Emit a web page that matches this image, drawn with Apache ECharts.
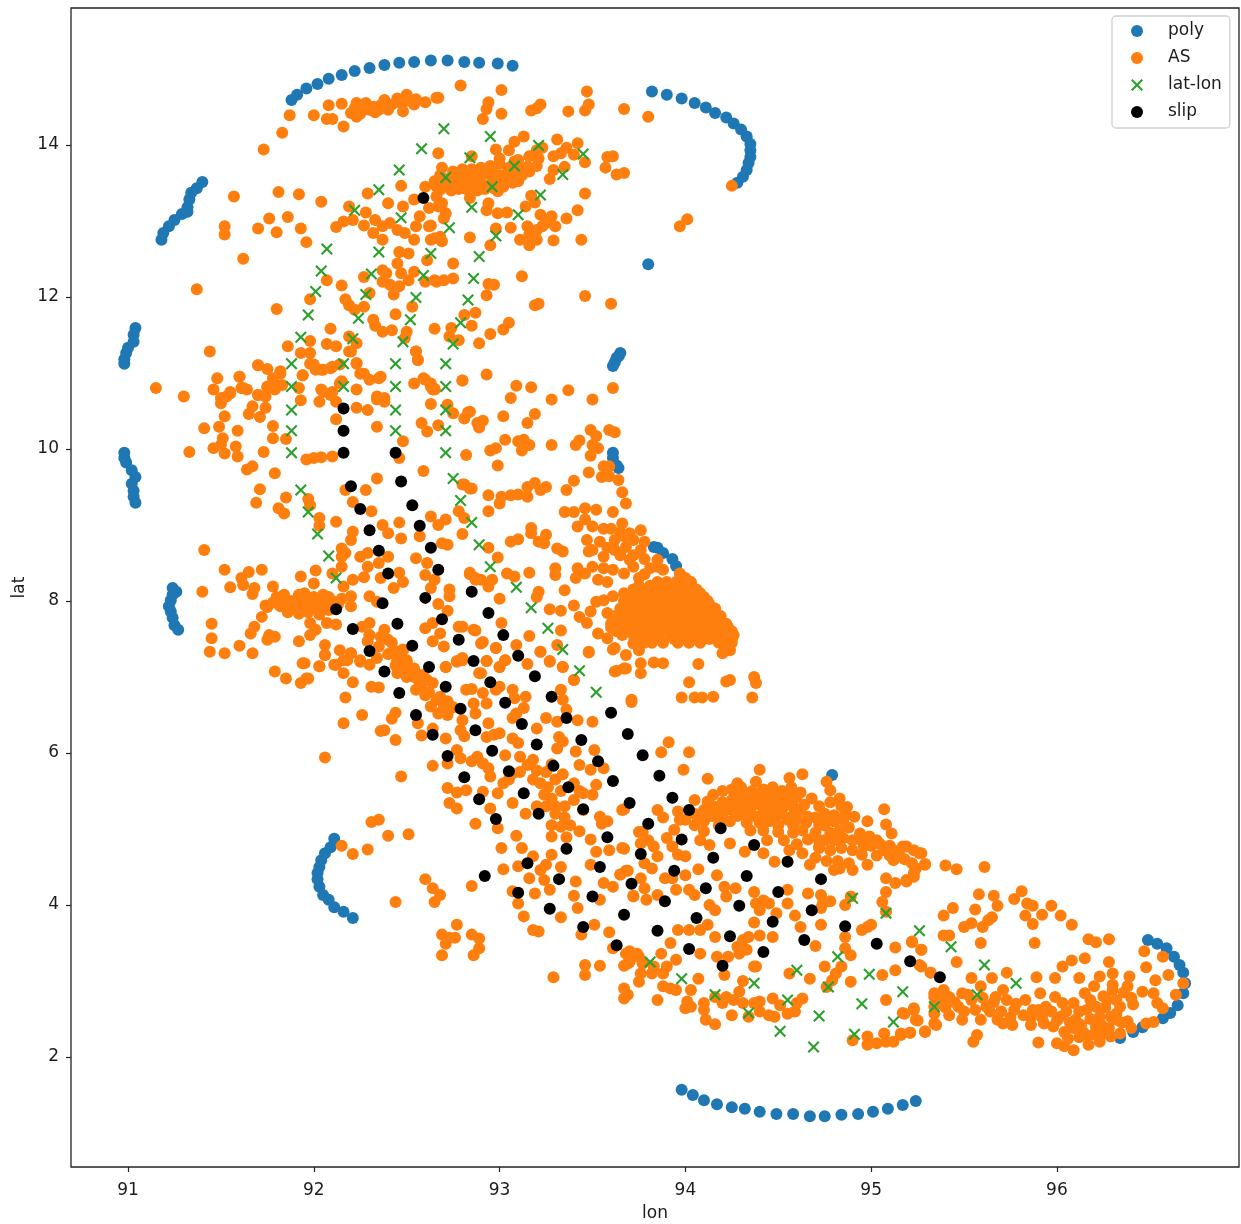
<!DOCTYPE html>
<html><head><meta charset="utf-8">
<style>html,body{margin:0;padding:0;background:#fff}#c{width:1241px;height:1224px}</style>
<script src="https://cdn.jsdelivr.net/npm/echarts@6/dist/echarts.min.js"></script>
</head><body><div id="c"></div>
<script>
const xTicks=[91,92,93,94,95,96];
const yTicks=[2,4,6,8,10,12,14];
const polyPoints=[[91.88,14.59],[91.91,14.66],[91.96,14.74],[92.02,14.80],[92.08,14.87],[92.15,14.92],[92.22,14.97],[92.30,15.01],[92.38,15.05],[92.46,15.08],[92.54,15.09],[92.63,15.11],[92.72,15.11],[92.81,15.09],[92.89,15.08],[92.99,15.07],[93.07,15.04],
[93.82,14.70],[93.90,14.66],[93.98,14.61],[94.05,14.55],[94.11,14.49],[94.16,14.42],[94.22,14.36],[94.26,14.28],[94.30,14.20],[94.33,14.11],[94.35,14.01],[94.35,13.93],[94.35,13.84],[94.34,13.76],[94.33,13.67],[94.31,13.58],[94.28,13.50],
[91.40,13.51],[91.37,13.43],[91.34,13.37],[91.33,13.28],[91.32,13.18],[91.32,13.12],[91.29,13.09],[91.25,13.01],[91.22,12.93],[91.19,12.84],[91.18,12.75],
[91.04,11.59],[91.03,11.50],[91.03,11.41],[91.00,11.33],[90.99,11.26],[90.98,11.18],[90.98,11.12],
[90.98,9.95],[90.98,9.88],[90.99,9.82],[91.02,9.72],[91.04,9.63],[91.02,9.54],[91.03,9.45],[91.03,9.37],[91.04,9.29],
[91.24,8.17],[91.26,8.12],[91.24,8.08],[91.23,8.01],[91.22,7.93],[91.23,7.86],[91.24,7.78],[91.25,7.68],[91.27,7.62],
[93.80,12.43],[93.65,11.26],[93.64,11.22],[93.63,11.20],[93.62,11.14],[93.61,11.09],[93.61,9.95],[93.61,9.88],[93.63,9.78],[93.64,9.75],
[93.83,8.71],[93.85,8.70],[93.88,8.63],[93.93,8.55],[93.95,8.46],[94.79,5.71],
[92.11,4.87],[92.09,4.76],[92.06,4.68],[92.04,4.59],[92.03,4.50],[92.02,4.42],[92.02,4.34],[92.03,4.24],[92.05,4.13],[92.08,4.07],[92.11,3.97],[92.16,3.91],[92.21,3.83],
[93.98,1.57],[94.04,1.50],[94.10,1.43],[94.17,1.38],[94.25,1.34],[94.32,1.32],[94.40,1.28],[94.49,1.25],[94.58,1.25],[94.67,1.22],[94.75,1.22],[94.84,1.24],[94.93,1.25],[95.01,1.28],[95.09,1.32],[95.17,1.37],[95.24,1.42],
[96.49,3.54],[96.54,3.49],[96.59,3.43],[96.63,3.32],[96.66,3.21],[96.68,3.11],[96.69,2.97],[96.68,2.84],[96.65,2.68],[96.61,2.58],[96.57,2.51],[96.46,2.39],[96.41,2.33],[96.34,2.25]];
const asPoints=[[91.87,14.39],[91.83,14.16],[91.73,13.94],[92.00,14.39],[92.08,14.52],[92.15,14.54],[92.07,14.34],[92.10,14.34],[92.16,14.24],[92.20,14.42],[92.23,14.55],[92.27,14.46],[92.30,14.46],[92.35,14.46],[92.38,14.59],[92.40,14.46],[92.45,14.61],[92.48,14.44],[92.50,14.66],[92.54,14.53],[92.60,14.56],[92.66,14.62],[92.23,14.37],[92.28,14.55],
[91.57,13.32],[91.81,13.38],[91.92,13.35],[92.04,13.25],[92.19,13.19],[92.29,13.36],[92.40,13.23],[92.47,13.46],[92.60,13.45],[91.52,12.93],[91.52,12.82],[91.76,13.03],[91.86,13.05],[91.70,12.90],[91.80,12.85],[91.93,12.90],[91.96,12.72],[91.62,12.50],[91.37,12.10],[91.80,11.84],[91.44,11.28],[91.15,10.80],[91.30,10.69],
[92.12,12.92],[92.16,12.99],[92.21,13.01],[92.27,12.94],[92.28,13.11],[92.33,13.01],[92.32,12.84],[92.37,12.93],[92.37,12.75],[92.41,12.97],[92.45,12.88],[92.49,12.84],[92.48,13.19],[92.54,12.75],[92.54,13.28],[92.57,13.06],[92.55,12.93],[92.62,12.93],[92.62,13.17],[92.65,12.77],[92.66,13.45],[92.67,13.19],[92.46,12.59],[92.51,12.57],[92.61,12.48],
[92.27,12.26],[92.37,12.35],[92.39,12.31],[92.45,12.44],[92.47,12.31],[92.54,12.33],[92.37,12.20],[92.41,12.16],[92.46,12.14],[92.43,12.03],[92.51,12.22],[92.60,12.20],[92.66,12.20],[92.07,12.22],[92.15,12.15],[91.98,11.97],[92.17,11.97],[92.19,11.89],[92.22,11.83],[92.27,11.87],[92.30,12.05],[92.53,11.87],[92.44,11.77],[92.32,11.70],[92.33,11.62],[92.09,11.58],[92.37,11.54],[92.42,11.56],[92.50,11.54],[92.49,11.46],[92.65,11.58],
[91.98,11.42],[91.86,11.35],[92.07,11.38],[92.12,11.35],[92.19,11.48],[92.23,11.39],[92.19,11.28],[91.93,11.26],[91.98,11.26],[91.98,11.12],[92.01,11.04],[92.05,11.04],[92.10,11.08],[92.55,11.28],[92.56,11.17],[91.70,11.10],[91.82,10.99],[91.94,10.97],[91.48,10.93],[91.60,10.95],[91.62,10.80],[91.75,10.80],[91.80,10.84],[91.46,10.78],[91.55,10.73],[91.70,10.71],[92.23,11.12],[92.27,10.99],[92.30,10.91],[92.36,10.95],[92.23,10.78],[92.14,10.86],[92.04,10.78],[92.09,10.71],[92.54,10.86],[92.60,10.91],[92.64,10.78],[92.34,10.69],[92.38,10.67],
[92.79,14.78],[93.01,14.72],[93.47,14.70],[92.67,14.62],[92.94,14.56],[92.93,14.47],[92.91,14.34],[93.01,14.41],[93.17,14.45],[93.20,14.48],[93.22,14.53],[93.37,14.44],[93.46,14.45],[93.48,14.53],[93.67,14.47],[93.80,14.37],[92.67,13.89],[92.85,13.85],[92.69,13.70],[92.65,13.52],
[92.68,13.60],[92.72,13.55],[92.76,13.62],[92.80,13.58],[92.84,13.60],[92.88,13.57],[92.92,13.62],[92.96,13.58],[93.00,13.60],[93.04,13.55],[93.08,13.58],[92.70,13.45],[92.74,13.48],[92.78,13.42],[92.82,13.50],[92.86,13.45],[92.90,13.50],[92.94,13.46],[92.98,13.50],[93.02,13.45],[92.75,13.65],[92.85,13.68],[92.95,13.72],[92.90,13.70],[93.00,13.75],[93.05,13.70],[92.84,13.30],[92.68,13.41],[92.66,13.32],[92.69,13.23],[92.71,13.10],[92.70,13.03],
[92.98,13.94],[93.05,13.93],[93.08,14.04],[93.13,14.11],[93.10,13.80],[93.15,13.71],[93.16,13.85],[93.20,13.93],[93.23,13.96],[93.21,13.82],[93.31,14.07],[93.29,13.85],[93.29,13.67],[93.33,13.89],[93.36,13.96],[93.42,14.02],[93.40,13.87],[93.35,13.71],[93.27,13.55],[93.46,13.77],[93.58,13.84],[93.61,13.85],[93.57,13.70],[93.63,13.61],[93.67,13.63],[93.46,13.36],[94.25,13.46],[94.01,13.02],[93.97,12.93],
[92.94,13.23],[92.93,13.14],[92.99,13.10],[93.04,13.11],[92.99,13.39],[93.17,13.33],[93.14,13.19],[93.19,13.24],[93.42,13.14],[93.36,13.03],[93.22,13.08],[93.28,13.06],[93.30,12.93],[93.25,12.97],[93.06,12.91],[92.98,12.90],[93.15,12.93],[93.20,12.88],[93.11,12.75],[93.16,12.68],[93.20,12.75],[93.16,12.82],[93.23,12.93],[93.29,12.74],[93.44,12.75],[92.84,12.78],[92.95,12.68],[92.63,12.75],[92.68,12.79],[92.69,12.73],[92.63,12.94],[92.75,12.44],[93.12,12.27],[92.94,12.17],[92.97,12.16],[92.93,12.02],[92.65,12.22],[92.70,12.22],[92.75,12.24],[93.46,12.01],[93.60,11.91],[93.19,11.89],[93.21,11.91],[92.87,11.79],[92.81,11.76],[92.85,11.62],[92.74,11.59],[92.73,11.48],[92.78,11.43],[92.95,11.51],[92.89,11.39],[93.02,11.57],[93.05,11.66],[92.93,10.98],[92.80,10.90],[93.09,10.83],[93.17,10.81],[93.37,10.77],[93.61,10.80],[93.06,10.67],[93.28,10.65],[93.50,10.65],[92.63,10.82],[92.65,10.78],
[91.60,10.95],[91.61,10.80],[91.64,10.78],[91.50,10.67],[91.53,10.69],[91.55,10.75],[91.50,10.60],[91.70,11.10],[91.75,11.05],[91.82,11.02],[91.78,10.93],[91.75,10.82],[91.79,10.78],[91.83,10.84],[91.70,10.71],[91.74,10.69],[91.74,10.54],[91.67,10.56],[91.65,10.46],[91.71,10.42],[91.52,10.43],[91.94,10.97],[91.92,10.80],[91.93,10.64],[91.78,10.30],[91.59,10.24],[91.49,10.29],[91.41,10.27],[91.51,10.14],[91.50,10.05],[91.46,10.01],[91.52,9.94],[91.58,10.03],[91.59,9.90],[91.33,9.96],[91.73,9.96],[91.78,10.14],[91.85,10.13],[91.64,9.73],[91.67,9.77],[91.79,9.68],[91.71,9.47],[91.69,9.29],[91.85,9.36],[91.81,9.22],[91.84,9.15],[91.97,9.34],[91.98,9.26],[92.03,9.09],[92.03,8.99],[92.12,9.04],
[92.00,11.11],[92.04,11.04],[92.09,11.06],[92.14,11.11],[92.20,11.28],[92.23,11.13],[92.25,10.99],[92.35,10.93],[92.15,10.89],[92.05,10.75],[92.03,10.62],[92.10,10.75],[92.12,10.62],[92.23,10.54],[92.29,10.51],[92.34,10.65],[92.38,10.62],[92.12,10.39],[92.34,10.29],[92.48,10.10],[92.46,9.88],[91.96,9.86],[92.00,9.88],[92.04,9.89],[92.10,9.90],[92.59,10.93],[92.63,10.86],[92.65,10.79],[92.80,10.90],[92.55,11.28],[92.56,11.17],[92.63,10.59],[92.72,10.58],[92.75,10.47],[92.81,10.40],[92.84,10.49],[92.88,10.34],[92.58,10.34],[92.61,10.23],[92.67,10.31],[92.82,9.92],[92.59,9.71],[92.34,9.61],[92.28,9.46],[92.17,9.46],[92.21,9.30],[92.31,9.18],[92.80,9.53],[92.85,9.48],[92.78,9.18],[92.81,9.09],[92.80,8.88],
[92.21,8.91],[92.20,8.80],[92.37,9.00],[92.40,8.89],[92.46,9.03],[92.47,8.82],[92.63,9.11],[92.67,9.00],[92.71,9.07],[92.57,8.85],[92.69,8.76],[92.72,8.74],[92.15,8.69],[92.15,8.58],[92.15,8.45],[92.17,8.63],[92.25,8.58],[92.29,8.63],[92.29,8.45],[92.35,8.50],[92.36,8.30],[92.40,8.58],[92.46,8.37],[92.48,8.25],[92.43,8.17],[92.55,8.56],[92.61,8.50],[92.60,8.34],[92.65,8.28],[92.63,8.17],[92.73,8.15],[92.73,8.06],[92.67,7.96],[92.72,7.87],[92.84,8.37],[92.87,8.30],
[91.41,8.67],[91.52,8.41],[91.72,8.41],[91.65,8.38],[91.61,8.30],[91.62,8.21],[91.55,8.18],[91.40,8.12],[91.68,8.17],[91.67,8.09],[91.78,8.19],[91.93,8.32],[92.01,8.40],[92.00,8.23],[92.10,8.36],[92.21,8.28],[92.27,8.31],[92.16,8.19],[92.20,8.06],[92.20,7.93],[92.30,8.06],[92.34,7.99],
[91.80,8.05],[91.84,8.08],[91.88,8.00],[91.92,8.08],[91.96,8.02],[92.00,8.05],[92.04,8.00],[92.08,8.05],[91.82,7.93],[91.86,7.95],[91.90,7.90],[91.94,7.95],[91.98,7.92],[92.02,7.90],[92.06,7.95],[92.10,7.95],[91.75,7.92],[91.74,7.94],[91.72,7.79],[91.68,7.66],[91.66,7.57],[91.45,7.70],[91.45,7.51],[91.44,7.33],[91.52,7.31],[91.60,7.41],[91.67,7.31],[91.76,7.55],[91.79,7.53],[91.75,7.49],[91.92,7.47],
[91.98,7.71],[92.01,7.62],[91.98,7.55],[92.07,7.71],[92.12,7.69],[92.06,7.42],[92.06,7.29],[92.14,7.35],[92.20,7.31],[92.12,7.16],[92.18,7.22],[91.94,7.18],[92.03,7.14],[92.26,7.66],[92.30,7.71],[92.30,7.55],[92.29,7.47],[92.36,7.53],[92.38,7.62],[92.40,7.49],[92.43,7.35],[92.48,7.35],[92.50,7.22],[92.45,7.22],[92.25,7.22],[92.30,7.16],[92.47,7.11],[92.54,7.11],[92.59,7.03],[91.79,7.07],[91.85,6.98],[91.96,6.98],[92.16,7.05],[92.60,7.64],[92.64,7.71],[92.68,7.57],[92.64,7.47],[92.70,7.40],[92.78,7.66],[92.86,7.62],[92.71,7.13],[92.77,7.20],
[92.83,10.48],[92.91,10.37],[92.89,10.28],[93.02,10.43],[93.19,10.46],[93.15,10.34],[93.49,10.25],[93.52,10.17],[93.59,10.25],[93.62,10.22],[93.03,10.12],[92.95,9.98],[92.98,10.01],[93.10,10.10],[93.13,10.12],[93.16,10.05],[93.12,9.98],[93.28,10.05],[93.41,10.05],[93.43,10.11],[93.50,10.05],[93.53,10.01],[93.49,9.91],[92.99,9.78],[93.48,9.69],[93.56,9.77],[93.59,9.77],[93.55,9.63],[93.59,9.64],[93.64,9.59],[93.40,9.58],[93.36,9.46],[93.66,9.43],[93.68,9.28],[92.81,9.53],[92.84,9.48],[92.94,9.39],[93.01,9.37],[93.00,9.28],[92.94,9.18],[93.06,9.39],[93.10,9.40],[93.15,9.37],[93.15,9.50],[93.19,9.55],[93.22,9.46],[93.25,9.50],[93.17,8.96],[93.17,8.89],[93.25,8.87],[93.21,8.78],[93.24,8.76],[93.10,8.81],[93.06,8.78],[93.31,8.69],[93.34,8.65],[92.94,8.70],[92.99,8.57],[92.84,8.35],[93.04,8.36],[93.08,8.32],[93.16,8.37],[93.30,8.43],[93.30,8.34],[93.35,8.14],[93.21,8.12],[93.20,8.05],[93.00,8.03],[92.87,8.28],[92.90,8.28],[92.94,8.19],[92.96,8.28],[93.27,7.89],[93.33,7.87],[93.40,7.94],[93.43,7.79],[93.47,7.71],[93.49,7.86],[93.01,7.71],[93.33,7.61],[93.16,7.54],[92.87,7.61],[92.80,7.66],[92.91,7.46],[92.98,7.38],[93.09,7.42],[93.03,7.22],[93.00,7.13],[92.93,7.21],[92.89,7.05],[92.80,7.22],[93.15,7.17],[93.22,7.33],[93.27,7.21],[93.31,7.42],[93.34,7.13],[93.48,7.32],[93.40,6.96],[93.53,7.57],
[93.35,9.17],[93.40,9.17],[93.46,9.22],[93.52,9.20],[93.42,8.98],[93.46,9.07],[93.50,8.98],[93.56,8.95],[93.61,9.17],[93.66,9.02],[93.70,8.89],[93.76,8.93],[93.67,8.85],[93.47,8.80],[93.54,8.78],[93.50,8.67],[93.48,8.65],[93.56,8.58],[93.62,8.67],[93.68,8.71],[93.76,8.67],[93.70,8.54],[93.42,8.43],[93.41,8.30],[93.46,8.36],[93.50,8.45],[93.56,8.43],[93.53,8.28],[93.58,8.25],[93.61,8.41],[93.67,8.36],[93.85,8.54],[93.81,8.43],[93.88,8.41],
[93.97,8.36],[93.98,8.30],[94.00,8.30],[93.85,8.25],[93.90,8.25],[93.95,8.25],[94.00,8.25],[94.03,8.25],[93.72,8.15],[93.78,8.15],[93.84,8.15],[93.90,8.15],[93.96,8.15],[94.02,8.15],[94.06,8.15],[93.70,8.05],[93.76,8.05],[93.82,8.05],[93.88,8.05],[93.94,8.05],[94.00,8.05],[94.06,8.05],[94.10,8.05],[93.72,7.95],[93.78,7.95],[93.84,7.95],[93.90,7.95],[93.96,7.95],[94.02,7.95],[94.08,7.95],[94.13,7.95],[93.68,7.85],[93.74,7.85],[93.80,7.85],[93.86,7.85],[93.92,7.85],[93.98,7.85],[94.04,7.85],[94.10,7.85],[94.15,7.85],[93.63,7.75],[93.70,7.75],[93.76,7.75],[93.82,7.75],[93.88,7.75],[93.94,7.75],[94.00,7.75],[94.06,7.75],[94.12,7.75],[94.18,7.75],[93.60,7.65],[93.66,7.65],[93.72,7.65],[93.78,7.65],[93.84,7.65],[93.90,7.65],[93.96,7.65],[94.02,7.65],[94.08,7.65],[94.14,7.65],[94.20,7.65],[94.23,7.65],[93.66,7.55],[93.72,7.55],[93.78,7.55],[93.84,7.55],[93.92,7.55],[93.98,7.55],[94.04,7.55],[94.10,7.55],[94.16,7.55],[94.22,7.55],[94.26,7.55],[93.78,7.45],[93.82,7.45],[93.88,7.45],[93.96,7.45],[94.02,7.45],[94.08,7.45],[94.18,7.45],[94.23,7.45],[94.25,7.45],
[93.62,7.38],[93.58,7.51],[93.68,7.29],[93.75,7.35],[93.83,7.19],[93.88,7.18],[93.76,7.18],[93.76,7.05],[93.63,7.08],[93.68,7.11],[94.07,7.17],[94.22,7.44],[94.24,7.35],[94.20,7.31],[94.02,6.93],[94.24,6.96],[94.22,6.94],[94.37,7.00],[94.38,6.92],[93.98,6.73],[94.05,6.73],[94.09,6.73],[94.15,6.74],[94.36,6.73],[93.71,6.70],[93.52,7.99],[93.56,8.01],[93.61,8.06],[93.58,7.84],[93.61,7.71],[93.67,7.66],[93.72,7.44],
[91.93,6.92],[91.97,6.98],[91.95,7.18],[92.03,7.14],[92.06,7.29],[92.11,7.16],[92.16,7.22],[92.20,7.31],[92.21,6.93],[92.17,6.73],[92.26,6.50],[92.16,6.39],[92.06,5.94],[92.31,6.87],[92.35,6.86],[92.25,7.20],[92.34,7.25],[92.41,7.31],[92.46,7.22],[92.50,7.09],[92.45,7.05],[92.54,7.00],[92.48,7.36],[92.57,6.92],[92.61,6.96],[92.55,6.83],[92.64,6.92],[92.60,6.76],[92.68,6.74],[92.63,6.61],[92.67,6.52],[92.72,6.50],[92.72,6.68],[92.44,6.53],[92.42,6.45],[92.36,6.29],[92.38,6.30],[92.44,6.17],[92.56,6.39],[92.58,6.23],[92.64,6.32],[92.71,6.19],[92.71,7.13],[92.77,7.21],[92.80,7.25],[92.93,7.21],[93.00,7.13],[93.03,7.22],[92.90,7.05],[92.98,7.38],[92.90,7.44],[92.82,6.83],[92.85,6.84],[92.79,6.30],[92.80,6.43],[92.86,6.65],[92.87,6.52],[92.91,6.79],[92.93,6.65],[92.98,6.83],[93.00,6.87],[93.07,6.83],[93.08,6.72],[93.14,6.74],[93.13,6.59],[93.09,6.52],[93.07,6.46],[92.94,6.39],[92.97,6.24],[93.00,6.26],[92.93,6.21],[93.07,6.19],[93.10,6.13],[92.81,6.22],[92.77,6.04],[92.79,5.93],[92.88,5.95],[92.85,5.89],[92.91,5.86],[93.03,5.97],[92.94,5.80],[92.95,5.69],[93.11,5.95],[93.15,5.84],[93.18,5.91],[92.64,5.83],[92.72,5.86],[92.47,5.69],[92.72,5.54],[92.77,5.48],[92.82,5.51],[92.73,5.34],[92.77,5.27],[92.91,5.49],[92.95,5.27],[92.99,5.47],[93.02,5.60],[93.07,5.34],[93.05,5.65],[93.07,5.73],[93.11,5.75],[92.87,5.07],[92.99,5.01],[93.14,5.20],
[93.18,5.65],[93.22,5.60],[93.26,5.55],[93.30,5.65],[93.24,5.45],[93.28,5.40],[93.33,5.50],[93.20,5.30],[93.25,5.30],[93.30,5.30],[93.35,5.30],[93.30,5.20],[93.35,5.15],[93.28,5.05],[93.33,5.03],[93.38,5.05],[93.20,5.77],[93.28,5.85],[93.25,5.75],[93.34,5.72],[93.40,5.60],[93.43,5.50],[93.40,5.38],[93.45,5.25],
[93.20,6.32],[93.25,6.46],[93.31,6.41],[93.36,6.57],[93.42,6.43],[93.50,6.41],[93.32,6.21],[93.34,6.15],[93.31,6.06],[93.41,6.02],[93.51,6.04],[93.43,5.84],[93.49,5.78],[93.56,5.80],[93.52,5.58],[93.50,5.45],[93.45,5.47],[93.33,6.83],[93.34,6.70],[93.34,7.13],[93.40,6.96],[93.27,7.20],[93.22,7.33],[93.48,7.33],[93.61,7.36],[93.67,7.11],[93.62,7.07],[93.71,6.67],[93.66,5.25],[93.54,5.16],[93.58,5.10],[93.55,5.07],[93.43,4.97],[93.28,4.90],[93.36,4.89],[93.49,4.86],[93.75,4.96],[93.09,4.91],[93.01,4.75],[93.12,4.75],[93.18,4.64],[93.28,4.66],[93.52,4.70],[93.59,4.72],[93.66,4.75],[93.02,4.47],[93.10,4.51],[93.16,4.35],[93.22,4.46],[93.25,4.53],[93.33,4.50],[93.24,4.33],[93.27,4.20],[93.19,4.15],[93.41,4.31],[93.49,4.53],[93.56,4.29],[93.61,4.24],[93.65,4.40],[93.69,4.45],[93.72,4.11],[93.40,4.12],[93.42,3.96],[93.33,3.84],[93.51,3.74],[93.59,3.64],[93.07,4.18],[93.10,4.02],[93.13,3.85],[93.18,3.67],[93.21,3.65],[93.44,3.61],[93.54,4.07],[93.61,3.43],[92.85,4.25],[92.60,4.34],[92.64,4.22],[92.68,4.13],[92.65,4.04],[92.44,4.04],[92.31,5.09],[92.35,5.12],[92.40,4.91],[92.51,4.93],[92.29,4.73],[92.21,4.67],[92.15,4.78],[92.77,3.74],[92.69,3.61],[92.73,3.57],[92.76,3.57],[92.71,3.49],[92.69,3.34],[92.85,3.61],[92.89,3.56],[92.89,3.43],[92.86,3.34],[93.29,3.05],[93.46,3.21],[93.46,3.08],[93.54,3.20],[93.67,3.20],[93.70,3.39],[93.69,3.23],[93.75,3.32],
[93.87,6.01],[94.02,6.01],[93.91,6.14],[93.99,5.78],[94.12,5.66],[94.40,5.78],[94.63,5.72],[94.76,5.62],[94.78,5.51],[94.05,5.38],[93.85,5.25],[93.88,5.15],[93.67,5.26],[94.28,5.60],[94.38,5.62],[94.56,5.67],
[94.15,5.45],[94.20,5.50],[94.25,5.52],[94.30,5.55],[94.36,5.50],[94.42,5.52],[94.47,5.55],[94.52,5.50],[94.57,5.55],[94.62,5.48],[94.68,5.40],[94.05,5.20],[94.10,5.25],[94.15,5.30],[94.20,5.35],[94.25,5.38],[94.30,5.42],[94.35,5.38],[94.40,5.42],[94.45,5.38],[94.50,5.40],[94.55,5.35],[94.00,5.12],[94.05,5.05],[94.10,5.10],[94.15,5.17],[94.20,5.20],[94.25,5.25],[94.30,5.28],[94.35,5.22],[94.42,5.25],[94.47,5.22],[94.52,5.20],[94.58,5.18],[94.62,5.25],[94.10,4.97],[94.18,5.05],[94.24,5.10],[94.33,5.08],[94.40,5.08],[94.45,5.10],[94.50,5.05],[94.58,5.05],[94.65,5.08],[94.70,5.15],[94.75,5.20],[94.83,5.40],[94.87,5.29],[94.91,5.16],[94.75,5.05],[94.80,5.10],[94.85,5.12],[94.78,4.95],[94.83,4.98],[94.88,5.02],[94.75,4.85],[94.80,4.85],[94.85,4.88],[94.72,4.75],[94.78,4.72],[94.84,4.75],[94.90,4.72],[94.70,4.62],[94.76,4.58],[94.82,4.58],[94.88,4.55],
[94.98,5.10],[95.07,5.26],[95.08,5.06],[94.94,4.94],[94.99,4.90],[94.96,4.77],[95.03,4.85],[95.11,4.94],[95.07,4.72],[95.12,4.72],[95.12,4.59],[95.17,4.77],[95.23,4.72],[95.27,4.68],[95.29,4.53],[95.24,4.48],[95.23,4.37],[95.19,4.33],[95.08,4.35],[95.13,4.29],[95.08,4.17],[95.06,4.04],[95.08,3.91],[94.98,4.53],[94.90,4.46],[94.83,4.48],[94.80,4.46],[94.08,4.85],[94.13,4.79],[94.24,4.81],[94.32,4.70],[94.42,4.68],[94.48,4.57],[94.56,4.72],[94.63,4.68],[94.67,4.53],[94.72,4.77],[94.44,4.85],[94.53,4.85],
[93.96,5.23],[93.97,5.12],[93.94,4.99],[93.90,4.88],[93.93,4.77],[93.96,4.66],[94.00,4.64],[93.77,4.96],[93.76,4.81],[93.80,4.85],[93.83,4.77],[93.85,4.64],[93.78,4.55],[93.82,4.48],[93.67,4.74],[93.68,4.45],[93.65,4.40],[94.07,4.47],[94.00,4.39],[94.17,4.39],[93.89,4.35],[93.93,4.35],[93.95,4.20],[94.02,4.20],[94.05,4.13],[93.76,4.35],[93.78,4.22],[93.72,4.12],[93.79,4.07],[93.85,4.13],[94.13,4.00],[94.16,3.93],[94.21,4.24],[94.27,4.22],[94.22,4.11],[94.37,4.17],[94.38,4.02],[94.42,4.06],[94.45,4.02],[94.40,3.93],[94.49,3.89],[94.55,4.02],[94.55,4.20],[94.59,3.86],[94.66,4.15],[94.73,4.13],[94.74,4.02],[94.78,4.05],[94.73,3.96],[94.86,4.00],[94.89,4.11],[94.37,3.77],[94.62,3.71],[94.73,3.74],[94.95,3.67],[95.00,3.74],[94.98,3.71],[94.47,3.58],[94.40,3.60],[94.70,3.46],[94.86,3.58],[94.86,3.43],[94.89,3.34],[95.13,3.44],[95.22,3.52],[95.27,3.41],[95.27,3.19],[95.32,3.11],[93.96,3.67],[94.02,3.67],[94.08,3.67],[94.12,3.74],[94.16,3.58],[93.92,3.50],[94.08,3.36],[94.31,3.54],[94.34,3.58],[94.28,3.45],[94.33,3.41],[94.17,3.32],[94.23,3.32],[94.29,3.36],[94.37,3.19],[94.38,3.19],[94.21,3.08],[94.75,3.19],[94.84,3.19],[94.81,3.10],[94.56,3.10],[94.67,3.03],[94.89,2.99],[95.06,3.08],[95.13,3.14],[94.79,3.01],[95.08,2.75],[94.76,2.92],
[93.68,3.36],[93.74,3.36],[93.70,3.25],[93.77,3.23],[93.87,3.36],[93.95,3.28],[93.90,3.19],[93.83,3.19],[93.76,3.10],[93.75,2.99],[93.82,3.10],[93.88,3.10],[93.88,2.93],[93.92,2.90],[93.95,2.88],[94.07,3.03],[94.03,2.88],[93.67,2.90],[93.69,2.82],[93.67,2.77],[93.85,2.75],[94.01,2.73],[94.00,2.64],[94.03,2.66],[94.10,2.71],[94.10,2.62],[94.11,2.49],[94.16,2.43],[94.16,2.79],[94.22,2.79],[94.20,2.71],[94.25,2.55],[94.31,3.00],[94.29,2.86],[94.26,2.75],[94.31,2.71],[94.34,2.53],[94.37,2.71],[94.40,2.73],[94.40,2.60],[94.45,2.55],[94.48,2.53],[94.47,2.77],[94.51,2.68],[94.55,2.57],[94.59,2.60],[94.60,2.71],[94.63,2.77],[94.90,2.22],[94.98,2.27],[94.98,2.16],[95.03,2.18],[95.07,2.31],[95.08,2.20],[95.12,2.20],[95.16,2.29],[95.21,2.32],[95.29,2.33],[95.24,2.49],[95.23,2.64],[95.18,2.57],[95.34,2.79],[95.34,2.44],[95.34,2.57],
[95.19,4.77],[95.26,4.68],[95.29,4.54],[95.24,4.48],[95.23,4.42],[95.19,4.31],[95.40,4.52],[95.46,4.47],[95.61,4.50],[95.58,4.14],[95.66,4.12],[95.68,3.99],[95.56,3.94],[95.44,3.96],[95.39,3.86],[95.50,3.71],[95.54,3.76],[95.60,3.71],[95.63,3.80],[95.65,3.84],[95.39,3.60],[95.42,3.60],[95.59,3.50],[95.77,4.08],[95.81,4.18],[95.84,4.02],[95.87,3.99],[95.83,3.86],[95.87,3.75],[95.92,3.87],[95.97,3.99],[96.02,3.86],[96.08,3.74],[95.88,3.50],[96.17,3.55],[96.21,3.51],[96.28,3.55],[95.22,3.51],[95.27,3.41],[95.26,3.21],[95.32,3.11],[95.46,3.25],[95.54,3.04],[95.73,3.11],[95.65,3.04],[95.89,3.05],[95.99,3.04],[96.03,3.19],[96.08,3.27],[96.15,3.30],[96.12,3.04],[96.28,3.25],[96.47,3.39],[96.57,3.32],[96.48,3.18],[96.53,3.01],[96.60,3.08],[96.68,2.97],[96.64,2.82],[96.52,2.84],[96.54,2.71],[96.57,2.64],[96.52,2.46],[96.48,2.44],
[95.34,2.84],[95.34,2.66],[95.35,2.42],[95.39,2.88],[95.42,2.79],[95.49,2.84],[95.47,2.66],[95.42,2.55],[95.49,2.49],[95.54,2.75],[95.59,2.93],[95.59,2.49],[95.62,2.66],[95.67,2.79],[95.71,2.88],[95.73,2.75],[95.68,2.49],[95.76,2.42],[95.71,2.44],[95.77,2.62],[95.83,2.75],[95.91,2.84],[95.87,2.62],[95.86,2.42],[95.93,2.44],[95.98,2.40],[95.99,2.79],[95.94,2.66],[96.03,2.71],[96.02,2.53],[96.09,2.71],[96.10,2.49],[96.15,2.84],[96.16,2.62],[96.04,2.33],[96.09,2.38],[96.14,2.33],[96.21,2.40],[96.00,2.18],[96.04,2.14],[96.09,2.09],[96.17,2.16],[96.23,2.20],[96.29,2.27],[96.34,2.31],[96.40,2.38],[96.38,2.47],[96.32,2.49],[96.29,2.53],[96.21,2.66],[96.23,2.53],[96.20,2.93],[96.23,3.06],[96.30,3.10],[96.39,3.06],[96.46,2.86],[96.30,2.88],[96.38,2.93],[96.41,2.69],[96.34,2.66],[96.27,2.75],[96.32,2.57],[95.90,2.19],[95.57,2.29],[95.55,2.20],[95.21,2.32],[95.29,2.34],[95.17,2.58],[95.23,2.62],[95.25,2.48],[95.16,2.31]];
const asDensePoints=[[93.75,8.20],[93.81,8.20],[93.87,8.20],[93.93,8.20],[93.99,8.20],[94.03,8.20],[93.67,8.10],[93.73,8.10],[93.79,8.10],[93.85,8.10],[93.91,8.10],[93.97,8.10],[94.03,8.10],[94.08,8.10],[93.67,8.00],[93.73,8.00],[93.79,8.00],[93.85,8.00],[93.91,8.00],[93.97,8.00],[94.03,8.00],[94.09,8.00],[94.12,8.00],[93.65,7.90],[93.71,7.90],[93.77,7.90],[93.83,7.90],[93.89,7.90],[93.95,7.90],[94.01,7.90],[94.07,7.90],[94.13,7.90],[94.16,7.90],[93.62,7.80],[93.68,7.80],[93.74,7.80],[93.80,7.80],[93.86,7.80],[93.92,7.80],[93.98,7.80],[94.04,7.80],[94.10,7.80],[94.16,7.80],[94.19,7.80],[93.60,7.70],[93.69,7.70],[93.75,7.70],[93.81,7.70],[93.87,7.70],[93.93,7.70],[93.99,7.70],[94.05,7.70],[94.11,7.70],[94.17,7.70],[94.22,7.70],[93.63,7.60],[93.69,7.60],[93.75,7.60],[93.81,7.60],[93.87,7.60],[93.95,7.60],[94.01,7.60],[94.07,7.60],[94.13,7.60],[94.19,7.60],[94.25,7.60],[93.75,7.50],[93.81,7.50],[93.86,7.50],[93.94,7.50],[94.00,7.50],[94.06,7.50],[94.13,7.50],[94.19,7.50],[94.25,7.50],
[94.28,5.45],[94.33,5.47],[94.39,5.46],[94.44,5.45],[94.50,5.47],[94.55,5.45],[94.60,5.42],[94.12,5.36],[94.18,5.27],[94.23,5.30],[94.28,5.33],[94.33,5.32],[94.38,5.33],[94.43,5.32],[94.48,5.31],[94.53,5.30],[94.58,5.30],[94.64,5.32],[94.72,5.30],[94.78,5.35],[94.84,5.30],[94.80,5.18],[94.86,5.20],[94.12,5.16],[94.07,5.12],[94.20,5.12],[94.28,5.17],[94.33,5.15],[94.38,5.16],[94.44,5.17],[94.48,5.13],[94.55,5.12],[94.60,5.12],[94.66,5.16],[94.72,5.05],[94.76,5.12],[94.35,4.98],[94.42,4.98],[94.50,4.96],[94.58,4.95],[94.63,4.98],[94.70,4.95],[94.72,4.85],[94.66,4.86],[94.60,4.80],[94.95,4.84],[95.00,4.78],[95.05,4.80],[95.10,4.78],[95.15,4.70],[95.10,4.65],[95.03,4.65],[94.90,4.85],[94.95,4.66],[95.18,4.60],[95.22,4.55],
[95.37,2.75],[95.40,2.65],[95.45,2.72],[95.50,2.60],[95.52,2.82],[95.56,2.62],[95.60,2.78],[95.64,2.60],[95.66,2.72],[95.70,2.60],[95.75,2.52],[95.78,2.70],[95.82,2.55],[95.86,2.52],[95.90,2.62],[95.92,2.52],[95.97,2.60],[96.00,2.48],[96.05,2.60],[96.07,2.45],[96.12,2.60],[96.13,2.42],[96.18,2.50],[96.18,2.75],[96.20,2.30],[96.24,2.42],[96.25,2.80],[96.26,2.65],[96.28,2.38],[96.30,2.95],[96.32,2.75],[96.35,2.45],[96.36,2.85],[96.40,2.78],[96.12,2.26],[96.17,2.28],[96.24,2.30],[96.06,2.24],
[92.70,13.52],[92.78,13.52],[92.82,13.42],[92.88,13.40],[92.92,13.42],[92.97,13.43],[93.02,13.52],[93.07,13.50],[93.10,13.52],[93.12,13.60],[93.16,13.65],[93.20,13.72],[92.80,13.68],[92.88,13.63],[92.96,13.65],[93.04,13.63],[93.10,13.70],[93.08,13.78],[93.00,13.82],[92.74,13.40],
[92.22,14.48],[92.26,14.52],[92.32,14.50],[92.36,14.52],[92.42,14.53],[92.47,14.55],[92.50,14.58],[92.55,14.60],[92.33,14.43],[92.25,14.41],
[91.78,7.98],[91.83,8.00],[91.90,8.00],[91.95,8.10],[92.00,7.97],[92.05,8.08],[92.10,8.00],[91.86,7.85],[91.92,7.83],[91.97,7.85],[92.03,7.82],[92.13,7.95],[92.15,8.03],[92.08,7.88],
[92.30,7.55],[92.35,7.40],[92.40,7.30],[92.44,7.15],[92.50,7.00],[92.55,7.05],[92.58,6.85],[92.50,7.20],[92.62,6.80],[92.66,6.70],[92.70,6.60],[92.75,6.60],[92.42,7.45],
[93.60,8.95],[93.65,8.90],[93.72,8.80],[93.62,8.80],[93.58,8.70],[93.72,8.60],[93.78,8.78],[93.65,8.60],[93.78,8.55],[93.72,8.45],[93.78,8.35],[93.75,8.30],[93.85,8.45]];
const latLonPoints=[[92.58,13.95],[92.46,13.67],[92.35,13.41],[92.22,13.14],[92.47,13.04],[92.07,12.63],[92.35,12.59],[92.63,12.57],[92.04,12.34],[92.31,12.30],[92.59,12.28],[92.01,12.07],[92.28,12.03],[92.55,11.99],[91.97,11.76],[92.24,11.72],[92.52,11.70],[91.93,11.47],[92.21,11.45],[92.48,11.41],[91.88,11.12],[92.16,11.12],[92.44,11.12],[92.71,11.12],[91.88,10.82],[92.16,10.82],[92.44,10.82],[92.71,10.82],[91.88,10.51],[92.44,10.51],[92.71,10.51],[91.88,10.24],[92.44,10.24],[92.71,10.24],[91.88,9.95],[92.71,9.95],[91.93,9.46],[92.75,9.61],[91.97,9.17],[92.79,9.32],[92.02,8.88],[92.85,9.03],[92.08,8.59],[92.89,8.74],[92.12,8.30],[92.95,8.45],[93.09,8.18],[93.17,7.91],[93.26,7.64],[93.34,7.36],[93.43,7.08],[93.52,6.80],[92.70,14.21],[92.95,14.11],[92.84,13.83],[93.21,13.99],[93.45,13.88],[93.08,13.72],[93.34,13.61],[92.71,13.57],[92.96,13.45],[93.22,13.34],[92.85,13.18],[93.10,13.08],[92.73,12.91],[92.98,12.80],[92.89,12.53],[92.86,12.24],[92.83,11.96],[92.79,11.66],[92.75,11.38],[93.81,3.25],[93.98,3.03],[94.16,2.82],[94.34,2.58],[94.51,2.34],[94.37,2.97],[94.55,2.75],[94.72,2.54],[94.69,2.13],[94.60,3.14],[94.77,2.92],[94.95,2.70],[95.12,2.46],[94.91,2.30],[94.82,3.32],[94.99,3.09],[95.17,2.86],[95.34,2.66],[94.90,4.09],[95.08,3.89],[95.26,3.66],[95.43,3.45],[95.61,3.21],[95.78,2.97],[95.57,2.82]];
const slipPoints=[[92.59,13.30],[92.16,10.53],[92.16,10.24],[92.16,9.95],[92.44,9.95],[92.20,9.51],[92.47,9.57],[92.25,9.21],[92.53,9.26],[92.30,8.93],[92.57,8.99],[92.35,8.66],[92.63,8.70],[92.40,8.36],[92.67,8.41],[92.12,7.89],[92.37,7.97],[92.60,8.04],[92.85,8.12],[92.21,7.63],[92.45,7.70],[92.69,7.76],[92.94,7.84],[92.30,7.34],[92.53,7.41],[92.78,7.49],[93.02,7.55],[92.38,7.07],[92.62,7.13],[92.86,7.21],[93.10,7.28],[92.46,6.79],[92.71,6.87],[92.95,6.93],[93.19,7.01],[92.55,6.50],[92.79,6.58],[93.03,6.66],[93.28,6.74],[92.64,6.24],[92.87,6.30],[93.12,6.38],[93.36,6.46],[93.60,6.53],[92.72,5.96],[92.96,6.03],[93.20,6.11],[93.44,6.17],[93.69,6.25],[92.81,5.68],[93.05,5.76],[93.29,5.83],[93.53,5.89],[93.77,5.97],[92.89,5.39],[93.13,5.47],[93.37,5.55],[93.61,5.63],[93.86,5.70],[92.98,5.13],[93.21,5.20],[93.45,5.26],[93.70,5.34],[93.93,5.41],[94.02,5.25],[93.36,4.74],[93.58,4.89],[93.80,5.07],[93.98,4.86],[94.19,5.01],[94.37,4.79],[93.15,4.55],[93.54,4.50],[93.76,4.67],[94.15,4.62],[94.55,4.57],[92.92,4.38],[93.32,4.34],[93.71,4.28],[93.94,4.45],[94.33,4.38],[94.73,4.34],[93.10,4.16],[93.50,4.11],[93.89,4.05],[94.11,4.22],[94.50,4.17],[93.27,3.95],[93.67,3.87],[94.29,3.99],[94.68,3.93],[93.45,3.71],[94.06,3.83],[94.47,3.78],[94.86,3.72],[93.63,3.47],[93.85,3.66],[94.24,3.59],[94.64,3.54],[95.03,3.49],[94.02,3.42],[94.42,3.38],[95.21,3.26],[94.20,3.20],[95.37,3.05]];
const seriesNames=['poly','AS','lat-lon','slip'];
const seriesColors=['#1f77b4','#ff7f0e','#2ca02c','#000000'];
const xMark='path://M1.25,0L5,3.75L8.75,0L10,1.25L6.25,5L10,8.75L8.75,10L5,6.25L1.25,10L0,8.75L3.75,5L0,1.25Z';
const txt='#1c1c1c';
const chart=echarts.init(document.getElementById('c'),null,{renderer:'canvas'});
chart.setOption({
 animation:false,
 backgroundColor:'#fff',
 grid:{left:71,right:2,top:8,bottom:57,outerBoundsMode:'none',show:true,borderColor:'#222',borderWidth:1.3,backgroundColor:'transparent'},
 legend:{orient:'vertical',left:1112,top:16,padding:[6,8,7,19],itemWidth:12,itemHeight:12,itemGap:9,borderColor:'#d0d0d0',borderWidth:1.3,borderRadius:4,
  textStyle:{fontFamily:'DejaVu Sans',fontSize:17,color:txt,padding:[0,0,0,20],lineHeight:18},
  data:seriesNames},
 xAxis:{type:'value',min:90.693,max:96.98,name:'lon',nameLocation:'middle',nameGap:38,nameMoveOverlap:false,
  nameTextStyle:{fontFamily:'DejaVu Sans',fontSize:17,color:txt},
  axisLine:{show:false},splitLine:{show:false},
  axisTick:{show:true,length:5,lineStyle:{color:'#222',width:1.2},customValues:xTicks},
  axisLabel:{fontFamily:'DejaVu Sans',fontSize:17,color:txt,margin:15,customValues:xTicks,formatter:v=>String(v)}},
 yAxis:{type:'value',min:0.553,max:15.8,name:'lat',nameLocation:'middle',nameGap:43,nameMoveOverlap:false,
  nameTextStyle:{fontFamily:'DejaVu Sans',fontSize:17,color:txt},
  axisLine:{show:false},splitLine:{show:false},
  axisTick:{show:true,length:5,lineStyle:{color:'#222',width:1.2},customValues:yTicks},
  axisLabel:{fontFamily:'DejaVu Sans',fontSize:17,color:txt,margin:12,customValues:yTicks,formatter:v=>String(v)}},
 series:[
  {name:seriesNames[0],type:'scatter',data:polyPoints,symbol:'circle',symbolSize:12,itemStyle:{color:seriesColors[0],opacity:1},silent:true},
  {name:seriesNames[1],type:'scatter',data:asPoints.concat(asDensePoints),symbol:'circle',symbolSize:12,itemStyle:{color:seriesColors[1],opacity:1},silent:true},
  {name:seriesNames[2],type:'scatter',data:latLonPoints,symbol:xMark,symbolSize:12,itemStyle:{color:seriesColors[2],opacity:1},silent:true},
  {name:seriesNames[3],type:'scatter',data:slipPoints,symbol:'circle',symbolSize:12,itemStyle:{color:seriesColors[3],opacity:1},silent:true}
 ]
});
</script></body></html>
